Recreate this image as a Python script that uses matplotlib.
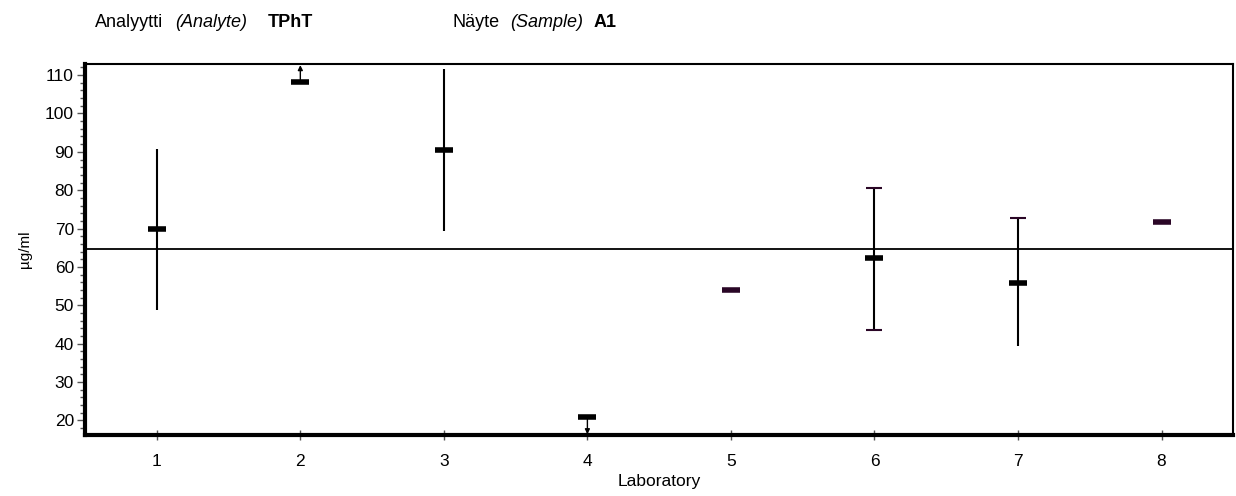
import matplotlib.pyplot as plt
from matplotlib.ticker import MultipleLocator

plt.rcParams["font.family"] = ["Liberation Sans", "DejaVu Sans"]

# lab results (ug/ml)
labs = [1, 2, 3, 4, 5, 6, 7, 8]
means = [69.8, 108.1, 90.4, 21.0, 53.9, 62.3, 55.9, 71.7]
mean_colors = ["black", "black", "black", "black", "#2a0626", "black", "black", "#2a0626"]

# uncertainty ranges
err_labs = [1, 3, 6, 7]
err_low = [48.7, 69.3, 43.5, 39.3]
err_high = [90.7, 111.6, 80.6, 72.8]

# bar ends drawn with a cap
cap_labs = [6, 6, 7]
cap_vals = [80.6, 43.5, 72.8]

# off-scale results: arrow from the mark towards the axis limit
arrow_labs = [2, 4]
arrow_from = [108.1, 21.0]
arrow_to = [112.6, 16.4]

assigned_value = 64.6

# header pieces
header_text = ["Analyytti", "(Analyte)", "TPhT", "Näyte", "(Sample)", "A1"]
header_style = ["normal", "italic", "normal", "normal", "italic", "normal"]
header_weight = ["normal", "normal", "bold", "normal", "normal", "bold"]
header_x = [95, 175, 268, 452, 510, 594]  # px from left

fig = plt.figure(figsize=(12.36, 4.96), dpi=100)
ax = fig.add_axes([0.0688, 0.123, 0.929, 0.748])

ax.axhline(assigned_value, color="black", lw=1.3, zorder=1)
ax.vlines(err_labs, err_low, err_high, color="black", lw=1.5, zorder=2)
ax.plot(cap_labs, cap_vals, ls="none", marker="_", ms=11, mew=1.5, color="#2a0626", zorder=3)

for x, y, c in zip(labs, means, mean_colors):
    ax.plot([x], [y], marker="_", ms=13, mew=4, color=c, ls="none", zorder=4)

for x, y0, y1 in zip(arrow_labs, arrow_from, arrow_to):
    ax.annotate("", xy=(x, y1), xytext=(x, y0),
                arrowprops=dict(arrowstyle="-|>", color="black", lw=1.0,
                                mutation_scale=7, shrinkA=2, shrinkB=0))

ax.set_xlim(0.5, 8.5)
ax.set_ylim(16.2, 112.9)
ax.set_xticks(labs)
ax.set_yticks(range(20, 111, 10))
ax.yaxis.set_minor_locator(MultipleLocator(2))

ax.tick_params(axis="x", direction="inout", length=7, width=1, color="#555555",
               labelsize=12.5, pad=10)
ax.tick_params(axis="y", which="major", direction="out", length=6, width=1,
               color="#555555", labelsize=12.5, pad=2)
ax.tick_params(axis="y", which="minor", direction="out", length=3.5, width=1,
               color="#555555")

for side in ["left", "bottom"]:
    ax.spines[side].set_linewidth(3)
for side in ["top", "right"]:
    ax.spines[side].set_linewidth(1.5)

ax.set_xlabel("Laboratory", fontsize=12.5, labelpad=4)
ax.set_ylabel("µg/ml", fontsize=11, labelpad=9)

for txt, st, wt, px in zip(header_text, header_style, header_weight, header_x):
    fig.text(px / 1236, 0.955, txt, fontsize=13, style=st, weight=wt, va="center")

fig.savefig("out.png", dpi=100)
